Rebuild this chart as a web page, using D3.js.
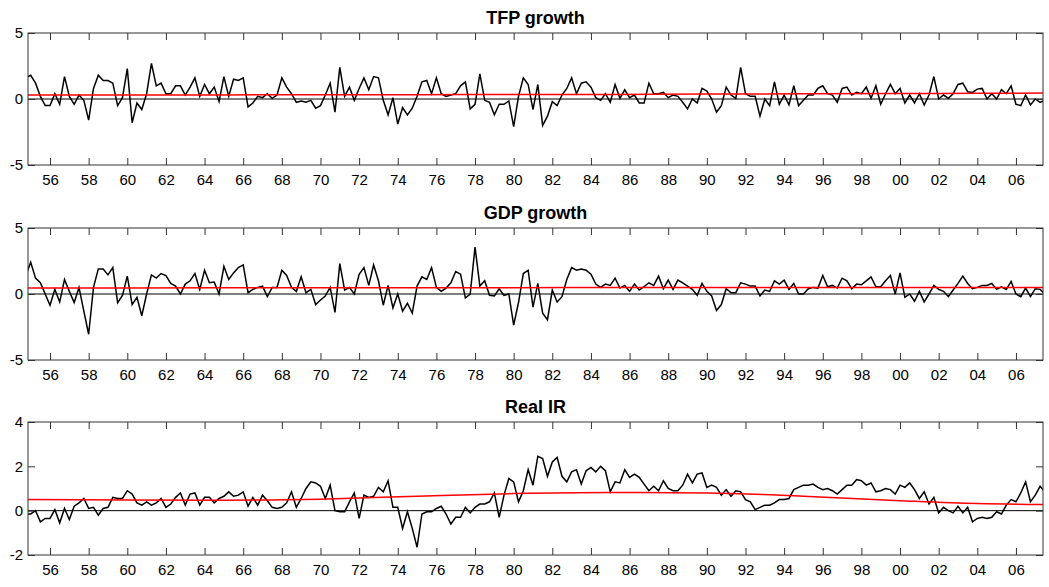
<!DOCTYPE html>
<html>
<head>
<meta charset="utf-8">
<script src="https://cdn.jsdelivr.net/npm/d3@7"></script>
<style>
body { margin: 0; background: #fff; }
svg { font-family: "Liberation Sans", Arial, sans-serif; }
</style>
</head>
<body>
<script>
// quarterly series, first point 1954Q4
var startYear = 1954.75;
var xTickYears = [1956,1958,1960,1962,1964,1966,1968,1970,1972,1974,1976,1978,1980,1982,1984,1986,1988,1990,1992,1994,1996,1998,2000,2002,2004,2006];

var tfp = [1.6,1.8,1.2,0.2,-0.5,-0.5,0.4,-0.4,1.7,0.2,-0.4,0.3,-0.1,-1.6,0.8,1.8,1.4,1.4,1.2,-0.5,0.1,2.3,-1.8,-0.3,-0.8,0.4,2.7,1.0,1.2,0.4,0.4,1.0,1.0,0.3,0.9,1.6,0.2,1.1,0.4,0.9,-0.2,1.7,0.2,1.5,1.4,1.6,-0.6,-0.3,0.2,0.1,0.4,0.05,0.3,1.6,0.9,0.4,-0.25,-0.15,-0.25,-0.1,-0.7,-0.5,0.3,1.2,-1.0,2.4,0.2,0.9,-0.1,0.8,1.6,0.7,
	1.7,1.6,-0.1,-1.2,0.1,-1.9,-0.65,-1.2,-0.7,0.2,1.3,1.4,0.4,1.6,0.4,0.2,0.3,0.4,1.0,1.3,-0.75,-0.4,1.9,-0.1,-0.25,-1.2,-0.4,-0.4,-0.15,-2.1,0.2,1.6,1.1,-0.8,1.1,-2.0,-1.3,-0.2,-0.5,0.3,0.8,1.6,0.4,1.2,1.3,0.9,0.1,-0.1,0.4,-0.25,1.1,0.05,0.7,0.1,0.3,-0.3,-0.3,1.2,0.4,0.4,0.5,0.1,0.3,0.2,-0.25,-0.75,0,-0.3,0.8,0.6,0,
	-1.0,-0.5,0.9,0.3,0.05,2.4,0.4,0.2,0.2,-1.3,0,-0.5,1.3,-0.4,0.3,-0.45,1.0,-0.5,-0.1,0.3,0.3,0.8,1.0,0.4,0.3,-0.25,0.8,0.9,0.3,0.5,0.4,0.9,0.05,1.0,-0.4,0.4,1.1,0.4,0.8,-0.3,0.3,-0.3,0.4,-0.45,0.3,1.7,0,0.3,0.05,0.4,1.1,1.2,0.55,0.5,0.75,0.8,0,0.4,0,0.7,0.4,1.0,-0.4,-0.5,0.3,-0.45,0,-0.25,-0.1];

var gdp = [1.4,2.4,1.2,0.85,0,-0.85,0.35,-0.6,1.1,0.2,-0.65,0.5,-1.3,-3.05,0.5,1.9,1.9,1.45,2.0,-0.65,-0.1,1.35,-0.8,-0.25,-1.65,0,1.45,1.2,1.55,1.4,0.8,0.6,0,0.75,1.0,1.55,0.35,1.8,0.85,0.9,0,2.1,1.1,1.6,2.0,2.2,0.1,0.35,0.5,0.6,-0.2,0.5,0.5,1.8,1.4,0.5,0.2,1.3,0.1,0.35,-0.8,-0.45,-0.15,0.5,-1.4,2.3,0.3,0.5,0,1.5,2.0,0.65,
	2.2,1.0,-0.85,0.65,-1.05,0,-1.3,-0.7,-1.45,0.6,1.3,1.1,2.0,0.5,0.2,0.45,0.85,1.7,1.5,-0.3,0,3.55,0.6,1.0,-0.1,-0.15,0.4,-0.1,0,-2.35,-0.65,1.55,1.8,-1.0,0.8,-1.45,-1.95,0.3,-0.6,-0.2,1.1,2.0,1.8,1.9,1.8,1.5,0.75,0.5,0.75,0.65,1.2,0.45,0.65,0.2,0.75,0.3,0.55,0.85,0.65,1.35,0.4,1.05,0.35,1.05,0.85,0.6,0.35,-0.1,0.8,0.2,-0.15,
	-1.25,-0.8,0.4,0.1,0.1,0.85,0.75,0.6,0.6,-0.15,0.3,0.2,1.0,0.75,1.05,0.35,0.8,0,0,0.4,0.5,0.45,1.4,0.55,0.65,0.45,1.2,1.0,0.4,0.75,0.7,1.0,1.3,0.55,0.55,1.0,1.4,0,1.6,-0.25,0,-0.55,0.2,-0.6,0,0.65,0.35,0.2,-0.2,0.3,0.8,1.35,0.8,0.4,0.5,0.65,0.65,0.8,0.35,0.55,0.35,0.95,0,-0.2,0.45,-0.2,0.4,0.35,0];

var realIR = [-0.15,-0.15,0,-0.5,-0.35,-0.35,0.05,-0.55,0.1,-0.4,0.2,0.35,0.55,0.1,0.15,-0.2,0.1,0.15,0.6,0.55,0.55,0.9,0.75,0.35,0.25,0.4,0.25,0.35,0.55,0.15,0.3,0.6,0.8,0.25,0.75,0.8,0.25,0.6,0.6,0.35,0.55,0.65,0.85,0.65,0.7,0.85,0.2,0.6,0.25,0.7,0.45,0.15,0.1,0.15,0.35,0.85,0.15,0.55,1.0,1.3,1.25,1.1,0.55,1.15,0,-0.05,-0.05,0.4,0.8,-0.35,0.7,0.6,0.65,
	1.05,0.85,1.35,0.15,0.15,-0.8,-0.05,-0.8,-1.65,-0.15,-0.05,-0.05,0.1,0.2,-0.15,-0.6,-0.3,-0.3,0.15,-0.1,0.15,0.3,0.3,0.4,0.8,-0.3,0.7,1.45,1.3,0.4,0.9,1.85,1.15,2.45,2.35,1.55,2.2,2.4,1.55,1.3,1.75,1.85,1.2,1.8,1.95,1.75,2.0,1.8,0.85,1.3,1.25,1.85,1.5,1.65,1.5,1.2,0.9,1.1,0.9,1.35,1.0,0.9,0.9,1.15,1.65,1.25,1.65,1.7,1.05,1.15,
	1.05,0.7,0.95,0.65,0.9,0.85,0.5,0.4,0.05,0.15,0.25,0.25,0.35,0.5,0.5,0.55,0.95,1.05,1.15,1.15,1.2,1.05,0.95,1.0,0.9,0.75,0.95,1.15,1.15,1.4,1.35,1.15,1.25,0.85,0.9,1.0,0.95,0.75,1.15,1.05,1.25,0.95,0.55,0.85,0.3,0.6,-0.1,0.15,0,-0.1,0.2,-0.1,0.15,-0.5,-0.35,-0.3,-0.35,-0.3,-0.05,-0.15,0.25,0.5,0.4,0.8,1.3,0.4,0.7,1.1,0.85];

// trend lines, knots at these years
var trendYears = [1954.5,1960,1965,1970,1975,1980,1985,1990,1995,2000,2004,2007.5];
var tfpTrend   = [0.3,0.3,0.31,0.32,0.33,0.34,0.35,0.37,0.39,0.41,0.43,0.45];
var gdpTrend   = [0.45,0.46,0.47,0.47,0.48,0.48,0.49,0.49,0.5,0.5,0.5,0.5];
var irTrend    = [0.5,0.48,0.47,0.52,0.65,0.77,0.82,0.8,0.65,0.45,0.32,0.28];

var panels = [
	{title: "TFP growth", data: tfp, trend: tfpTrend, top: 33, bottom: 165, dom: [-5, 5], ticks: [-5, 0, 5]},
	{title: "GDP growth", data: gdp, trend: gdpTrend, top: 228, bottom: 360, dom: [-5, 5], ticks: [-5, 0, 5]},
	{title: "Real IR", data: realIR, trend: irTrend, top: 422, bottom: 555, dom: [-2, 4], ticks: [-2, 0, 2, 4]}
];

var left = 28, right = 1043;
var svg = d3.select("body").append("svg")
	.attr("width", 1049)
	.attr("height", 587);

var x = d3.scaleLinear().domain([1954.86, 2007.4]).range([left, right]);
var fmt = function(d) { return String(d); };

panels.forEach(function(p, k) {
	var y = d3.scaleLinear().domain(p.dom).range([p.bottom, p.top]);
	var g = svg.append("g");

	svg.append("clipPath").attr("id", "clip" + k)
		.append("rect")
		.attr("x", left).attr("y", p.top)
		.attr("width", right - left).attr("height", p.bottom - p.top);

	g.append("text")
		.attr("x", (left + right) / 2)
		.attr("y", p.top - 9)
		.attr("text-anchor", "middle")
		.style("font-size", "18px")
		.style("font-weight", "bold")
		.text(p.title);

	var plot = g.append("g").attr("clip-path", "url(#clip" + k + ")");

	plot.append("line")
		.attr("x1", left).attr("x2", right)
		.attr("y1", y(0)).attr("y2", y(0))
		.attr("stroke", "#000").attr("stroke-width", 1);

	var line = d3.line()
		.x(function(d, i) { return x(startYear + i / 4); })
		.y(function(d) { return y(d); });
	plot.append("path")
		.datum(p.data)
		.attr("d", line)
		.attr("fill", "none")
		.attr("stroke", "#000")
		.attr("stroke-width", 1.5);

	var tline = d3.line()
		.x(function(d, i) { return x(trendYears[i]); })
		.y(function(d) { return y(d); })
		.curve(d3.curveMonotoneX);
	plot.append("path")
		.datum(p.trend)
		.attr("d", tline)
		.attr("fill", "none")
		.attr("stroke", "#ff0000")
		.attr("stroke-width", 1.5);

	// frame and ticks
	g.append("rect")
		.attr("x", left).attr("y", p.top)
		.attr("width", right - left).attr("height", p.bottom - p.top)
		.attr("fill", "none").attr("stroke", "#333").attr("stroke-width", 1);

	var xb = d3.axisBottom(x).tickValues(xTickYears).tickSizeInner(-7).tickSizeOuter(0)
		.tickFormat(function(d) { return d3.format("02d")(d % 100); });
	var gx = g.append("g").attr("transform", "translate(0," + p.bottom + ")").call(xb);
	gx.select(".domain").remove();
	gx.selectAll("text").attr("dy", "1.15em").style("font-size", "15px").style("font-family", "Liberation Sans, Arial, sans-serif");

	var xt = d3.axisTop(x).tickValues(xTickYears).tickSizeInner(-7).tickSizeOuter(0).tickFormat("");
	var gxt = g.append("g").attr("transform", "translate(0," + p.top + ")").call(xt);
	gxt.select(".domain").remove();

	var yl = d3.axisLeft(y).tickValues(p.ticks).tickSizeInner(-7).tickSizeOuter(0).tickFormat(fmt);
	var gy = g.append("g").attr("transform", "translate(" + left + ",0)").call(yl);
	gy.select(".domain").remove();
	gy.selectAll("text").attr("x", -5).style("font-size", "15px").style("font-family", "Liberation Sans, Arial, sans-serif");

	var yr = d3.axisRight(y).tickValues(p.ticks).tickSizeInner(-7).tickSizeOuter(0).tickFormat("");
	var gyr = g.append("g").attr("transform", "translate(" + right + ",0)").call(yr);
	gyr.select(".domain").remove();

	g.selectAll(".tick line").attr("stroke", "#333");
});
</script>
</body>
</html>
